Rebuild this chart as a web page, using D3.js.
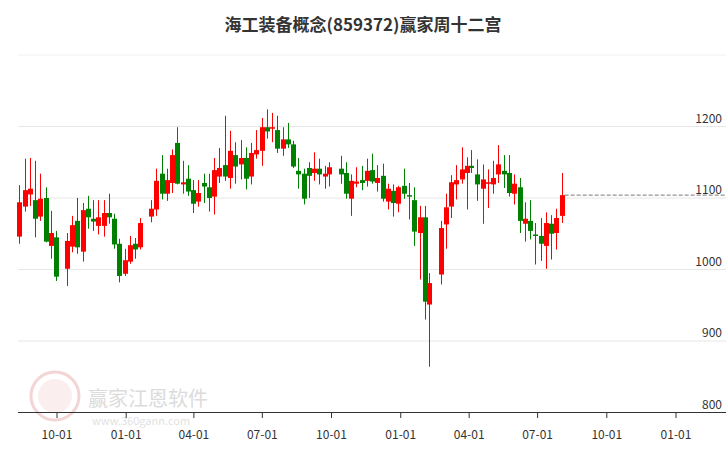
<!DOCTYPE html>
<html><head><meta charset="utf-8">
<script src="https://cdn.jsdelivr.net/npm/d3@7"></script>
<style>body{margin:0;background:#fff}svg{display:block;font-family:"Noto Sans CJK SC","Noto Sans",sans-serif}</style>
</head><body><svg id="c" width="726" height="450"></svg>
<script>
const title = "海工装备概念(859372)赢家周十二宫";
const dates = ["2022-08-12","2022-08-19","2022-08-26","2022-09-02","2022-09-09","2022-09-16","2022-09-23","2022-09-30",
"2022-10-14","2022-10-21","2022-10-28","2022-11-04","2022-11-11","2022-11-18","2022-11-25","2022-12-02","2022-12-09","2022-12-16","2022-12-23","2022-12-30",
"2023-01-06","2023-01-13","2023-01-20","2023-02-03","2023-02-10","2023-02-17","2023-02-24","2023-03-03","2023-03-10","2023-03-17","2023-03-24","2023-03-31",
"2023-04-07","2023-04-14","2023-04-21","2023-04-28","2023-05-05","2023-05-12","2023-05-19","2023-05-26","2023-06-02","2023-06-09","2023-06-16","2023-06-23","2023-06-30",
"2023-07-07","2023-07-14","2023-07-21","2023-07-28","2023-08-04","2023-08-11","2023-08-18","2023-08-25","2023-09-01","2023-09-08","2023-09-15","2023-09-22","2023-09-28",
"2023-10-13","2023-10-20","2023-10-27","2023-11-03","2023-11-10","2023-11-17","2023-11-24","2023-12-01","2023-12-08","2023-12-15","2023-12-22","2023-12-29",
"2024-01-05","2024-01-12","2024-01-19","2024-01-26","2024-02-02","2024-02-08","2024-02-23","2024-03-01","2024-03-08","2024-03-15","2024-03-22","2024-03-29",
"2024-04-03","2024-04-12","2024-04-19","2024-04-26","2024-05-03","2024-05-10","2024-05-17","2024-05-24","2024-05-31","2024-06-07","2024-06-14","2024-06-21","2024-06-28",
"2024-07-05","2024-07-12","2024-07-19","2024-07-26","2024-08-02"];
const open  = [1046,1088,1105,1097,1074,1100,1033,1045,1001,1032,1068,1025,1085,1071,1061,1061,1079,1071,1036,994,1011,1036,1031,1074,1084,1134,1106,1121,1177,1119,1127,1111,1095,1121,1115,1102,1130,1146,1128,1160,1147,1156,1130,1161,1166,1199,1197,1195,1169,1182,1175,1138,1134,1142,1135,1141,1130,1133,1141,1135,1099,1120,1125,1124,1139,1121,1131,1095,1110,1092,1117,1104,1097,1051,1073,951,993,1063,1088,1119,1126,1135,1145,1133,1113,1121,1119,1133,1138,1135,1106,1115,1064,1068,1049,1047,1033,1064,1051,1075];
const close = [1094,1111,1113,1071,1099,1039,1051,990,1040,1062,1031,1083,1073,1067,1073,1079,1073,1035,991,1013,1034,1028,1065,1085,1124,1106,1125,1160,1120,1122,1109,1092,1107,1116,1100,1139,1142,1130,1166,1144,1156,1127,1163,1167,1199,1193,1199,1169,1182,1175,1144,1133,1099,1131,1141,1133,1134,1143,1133,1106,1124,1123,1121,1138,1123,1128,1099,1113,1093,1115,1106,1102,1053,1073,955,981,1058,1087,1122,1125,1140,1145,1142,1119,1126,1122,1128,1147,1133,1107,1120,1068,1071,1054,1047,1036,1065,1050,1072,1104];
const high  = [1118,1155,1156,1152,1134,1115,1082,1054,1051,1075,1100,1093,1103,1097,1097,1097,1106,1078,1043,1029,1047,1044,1072,1097,1141,1160,1141,1168,1199,1152,1146,1125,1125,1134,1134,1156,1170,1215,1194,1178,1181,1171,1177,1195,1212,1224,1219,1215,1199,1205,1180,1156,1141,1150,1164,1155,1145,1150,1159,1150,1133,1143,1145,1155,1162,1146,1148,1120,1119,1117,1141,1121,1115,1089,1089,995,1068,1106,1132,1146,1171,1157,1167,1154,1147,1140,1152,1174,1160,1160,1133,1128,1094,1097,1065,1072,1080,1076,1085,1135];
const low   = [1036,1081,1089,1045,1068,1038,1015,984,977,1024,1022,1011,1057,1054,1049,1046,1064,1029,982,991,1008,1015,1028,1066,1075,1098,1096,1107,1119,1106,1103,1079,1088,1093,1081,1077,1121,1124,1113,1120,1126,1112,1119,1155,1145,1183,1178,1163,1159,1170,1142,1113,1091,1100,1124,1119,1113,1116,1120,1099,1075,1115,1111,1116,1120,1109,1095,1084,1074,1080,1099,1070,1033,986,930,864,979,1029,1072,1098,1120,1084,1135,1096,1064,1086,1106,1121,1114,1102,1091,1051,1039,1042,1007,1012,1001,1014,1028,1065];
const xTicks = ["2022-10-01","2023-01-01","2023-04-01","2023-07-01","2023-10-01","2024-01-01","2024-04-01","2024-07-01","2024-10-01","2025-01-01"];
const yTicks = [800,900,1000,1100,1200];

const svg = d3.select("#c");
const p = d3.timeParse("%Y-%m-%d");
const x = d3.scaleTime().domain([p("2022-10-01"), p("2025-01-01")]).range([57, 676]);
const y = d3.scaleLinear().domain([800, 1200]).range([412.5, 126.5]);

svg.append("text").attr("x", 363).attr("y", 31).attr("text-anchor","middle")
  .attr("font-size", 17).attr("font-weight","bold").attr("fill","#333").text(title);

// watermark
const wm = svg.append("g").attr("opacity", 0.35);
wm.append("circle").attr("cx",55).attr("cy",396).attr("r",24).attr("fill","none").attr("stroke","#d88").attr("stroke-width",3);
wm.append("circle").attr("cx",55).attr("cy",396).attr("r",17).attr("fill","#f4d0d0");
wm.append("text").attr("x",88).attr("y",406).attr("font-size",20).attr("fill","#999").text("赢家江恩软件");
wm.append("text").attr("x",92).attr("y",425).attr("font-size",11).attr("fill","#aaa").text("www.360gann.com");

// grid
svg.append("line").attr("x1",18).attr("x2",726).attr("y1",55).attr("y2",55).attr("stroke","#f0f0f0");
svg.selectAll(".g").data(yTicks).join("line").attr("x1",18).attr("x2",726)
  .attr("y1",d=>y(d)).attr("y2",d=>y(d)).attr("stroke","#e6e6e6");
svg.selectAll(".yl").data(yTicks).join("text").attr("x",722).attr("y",d=>y(d)-4)
  .attr("text-anchor","end").attr("font-size",12).attr("fill","#333").text(d=>d);

// x axis
svg.append("line").attr("x1",18).attr("x2",726).attr("y1",412.5).attr("y2",412.5).attr("stroke","#333");
const xt = xTicks.map(p);
svg.selectAll(".xt").data(xt).join("line").attr("x1",d=>x(d)).attr("x2",d=>x(d)).attr("y1",412.5).attr("y2",418).attr("stroke","#333");
svg.selectAll(".xl").data(xt).join("text").attr("x",d=>x(d)).attr("y",439).attr("text-anchor","middle")
  .attr("font-size",12).attr("fill","#333").text(d3.timeFormat("%m-%d"));

// candles
const data = dates.map((d,i)=>({d:p(d),o:open[i],c:close[i],h:high[i],l:low[i]}));
const col = d => d.c >= d.o ? "#ff0000" : "#008000";
const g = svg.append("g");
g.selectAll(".w").data(data).join("line").attr("x1",d=>Math.round(x(d.d))+0.5).attr("x2",d=>Math.round(x(d.d))+0.5)
  .attr("y1",d=>y(d.h)).attr("y2",d=>y(d.l)).attr("stroke",col).attr("stroke-width",1);
g.selectAll(".b").data(data).join("rect").attr("x",d=>Math.round(x(d.d))-2).attr("width",5)
  .attr("y",d=>y(Math.max(d.o,d.c))).attr("height",d=>Math.max(1.5,Math.abs(y(d.o)-y(d.c)))).attr("fill",col);

// last close dashed line
const last = data[data.length-1];
svg.append("line").attr("x1",x(last.d)+3).attr("x2",726).attr("y1",y(last.c)).attr("y2",y(last.c))
  .attr("stroke","#555").attr("stroke-dasharray","4,2").attr("stroke-width",0.8);
</script></body></html>
